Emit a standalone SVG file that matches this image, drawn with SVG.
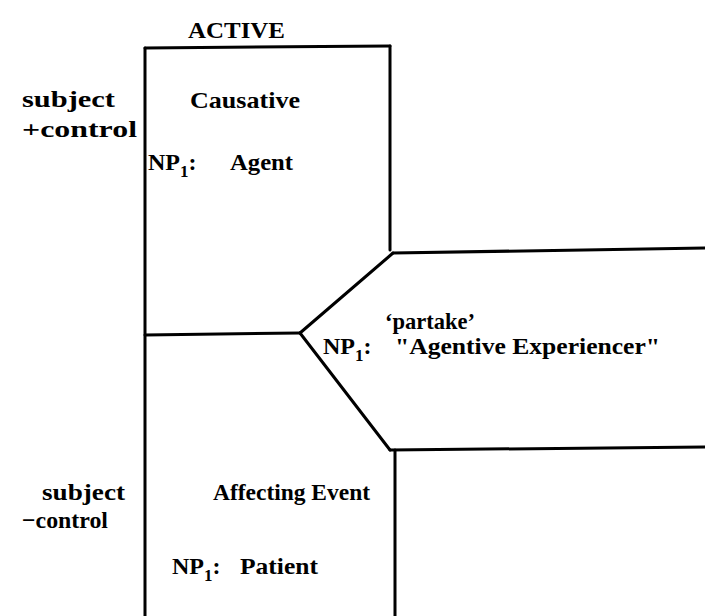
<svg xmlns="http://www.w3.org/2000/svg" width="705" height="616" viewBox="0 0 705 616">
<style>
  .ln { stroke: #000; stroke-width: 3; fill: none; stroke-linecap: round; stroke-linejoin: round; }
  text { font-family: "Liberation Serif", "Times New Roman", serif; font-weight: bold; font-size: 24px; fill: #000; }
  .sub { font-size: 17px; }
</style>
<rect width="705" height="616" fill="#fff"/>
<g id="connectors">
  <path class="ln" d="M145,48 L390,46"/>
  <path class="ln" d="M145,48 L145,616"/>
  <path class="ln" d="M390,46 L390,250"/>
  <path class="ln" d="M393,253 L705,248"/>
  <path class="ln" d="M393,253 L300,333"/>
  <path class="ln" d="M145,335 L300,333"/>
  <path class="ln" d="M300,333 L390,450"/>
  <path class="ln" d="M390,450 L705,447"/>
  <path class="ln" d="M395,450 L395,616"/>
</g>
<g id="header">
  <text x="188" y="38" textLength="97" lengthAdjust="spacingAndGlyphs">ACTIVE</text>
</g>
<g id="label-plus-control">
  <text x="22" y="107" textLength="93" lengthAdjust="spacingAndGlyphs">subject</text>
  <text x="22" y="137" textLength="115" lengthAdjust="spacingAndGlyphs">+control</text>
</g>
<g id="node-causative">
  <text x="190" y="108" textLength="110" lengthAdjust="spacingAndGlyphs">Causative</text>
  <text x="148" y="170">NP<tspan class="sub" dy="7">1</tspan><tspan dy="-7">:</tspan></text>
  <text x="230" y="170" textLength="63" lengthAdjust="spacingAndGlyphs">Agent</text>
</g>
<g id="node-partake">
  <text x="385" y="329" textLength="90" lengthAdjust="spacingAndGlyphs">‘partake’</text>
  <text x="323" y="354">NP<tspan class="sub" dy="7">1</tspan><tspan dy="-7">:</tspan></text>
  <text x="395" y="354" textLength="265" lengthAdjust="spacingAndGlyphs">"Agentive Experiencer"</text>
</g>
<g id="label-minus-control">
  <text x="42" y="500" textLength="83" lengthAdjust="spacingAndGlyphs">subject</text>
  <text x="22" y="528" textLength="86" lengthAdjust="spacingAndGlyphs">−control</text>
</g>
<g id="node-affecting-event">
  <text x="213" y="500" textLength="157" lengthAdjust="spacingAndGlyphs">Affecting Event</text>
  <text x="172" y="574">NP<tspan class="sub" dy="7">1</tspan><tspan dy="-7">:</tspan></text>
  <text x="240" y="574" textLength="78" lengthAdjust="spacingAndGlyphs">Patient</text>
</g>
</svg>
